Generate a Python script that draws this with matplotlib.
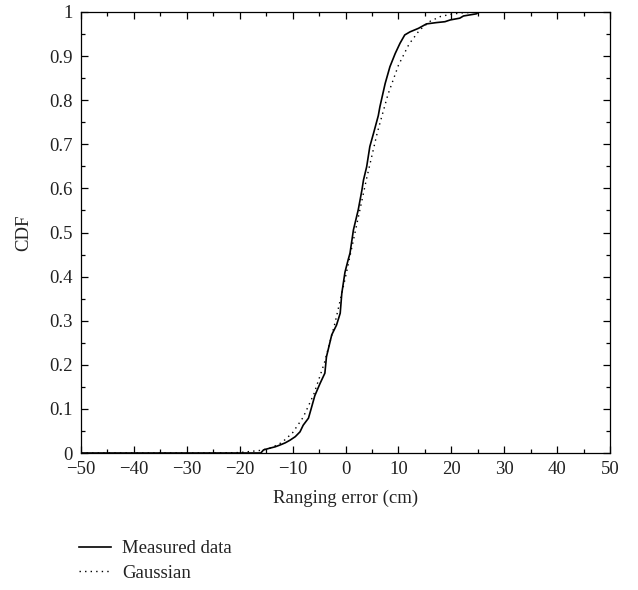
#Imports
import matplotlib
matplotlib.use("Agg")
import matplotlib.pyplot as plt
from matplotlib.ticker import MultipleLocator

#Measured ranging error CDF
meas_x = [-50, -16.0, -15.5, -14.3, -13.3, -12.4, -11.4, -10.5, -9.5, -8.6, -8.0,
          -7.0, -6.5, -5.8, -4.8, -3.9, -3.6, -2.6, -1.7, -1.0, -0.7, -0.1, 0.5,
          0.85, 1.5, 2.4, 3.1, 3.4, 4.0, 4.6, 5.3, 6.2, 6.5, 7.5, 8.4, 9.4, 10.3,
          11.2, 12.2, 13.8, 15.3, 17.2, 18.8, 19.8, 21.6, 22.3, 24.8, 25.1, 50]
meas_cdf = [0, 0, 0.007, 0.011, 0.014, 0.018, 0.023, 0.029, 0.037, 0.048, 0.063,
            0.079, 0.10, 0.13, 0.158, 0.181, 0.218, 0.268, 0.29, 0.317, 0.362, 0.41, 0.438,
            0.453, 0.506, 0.551, 0.596, 0.619, 0.649, 0.695, 0.725, 0.765, 0.785, 0.838, 0.876, 0.906, 0.929,
            0.948, 0.955, 0.963, 0.973, 0.976, 0.978, 0.982, 0.986, 0.991, 0.996, 1.0, 1.0]

#Gaussian fit CDF
gauss_x = [-50, -25, -20, -16, -14, -12, -10, -8, -6, -4, -2, 0, 2, 4, 6, 8,
           10, 12, 14, 16, 18, 20, 22, 25, 30, 50]
gauss_cdf = [0, 0, 0.001, 0.006, 0.012, 0.024, 0.046, 0.081, 0.133, 0.204, 0.294,
             0.399, 0.511, 0.623, 0.726, 0.812, 0.879, 0.927, 0.959, 0.979, 0.990,
             0.995, 0.998, 0.9995, 1.0, 1.0]

plt.rcParams['font.family'] = ['Liberation Serif', 'DejaVu Serif']
plt.rcParams['font.size'] = 13.5
txt = '#222222'

fig = plt.figure(figsize=(6.38, 5.90), dpi=100)
ax = fig.add_axes([81/638, 1 - 453/590, 529/638, 441/590])

ax.plot(meas_x, meas_cdf, color='black', lw=1.2, label='Measured data')
ax.plot(gauss_x, gauss_cdf, color='black', lw=1.0, ls=(0, (1, 3)), label='Gaussian')

ax.set_xlim(-50, 50)
ax.set_ylim(0, 1)
ax.xaxis.set_major_locator(MultipleLocator(10))
ax.xaxis.set_minor_locator(MultipleLocator(5))
ax.yaxis.set_major_locator(MultipleLocator(0.1))
ax.yaxis.set_minor_locator(MultipleLocator(0.05))
ax.set_yticks([0, 0.1, 0.2, 0.3, 0.4, 0.5, 0.6, 0.7, 0.8, 0.9, 1])
ax.set_yticklabels(['0', '0.1', '0.2', '0.3', '0.4', '0.5', '0.6', '0.7', '0.8', '0.9', '1'])
ax.tick_params(which='both', direction='in', top=True, right=True, colors='black',
               labelcolor=txt, pad=6, width=0.9)
ax.tick_params(which='major', length=5)
ax.tick_params(which='minor', length=3)
for s in ax.spines.values():
    s.set_linewidth(0.9)

ax.set_xlabel('Ranging error (cm)', color=txt, labelpad=8)
ax.set_ylabel('CDF', color=txt, labelpad=12)

leg = fig.legend(loc='upper left', bbox_to_anchor=(79/638, 1 - 540/590), frameon=False,
                 borderpad=0, borderaxespad=0, handlelength=1.7, handletextpad=0.6,
                 labelspacing=0.4)
for t in leg.get_texts():
    t.set_color(txt)

fig.savefig('out.png', dpi=100)
